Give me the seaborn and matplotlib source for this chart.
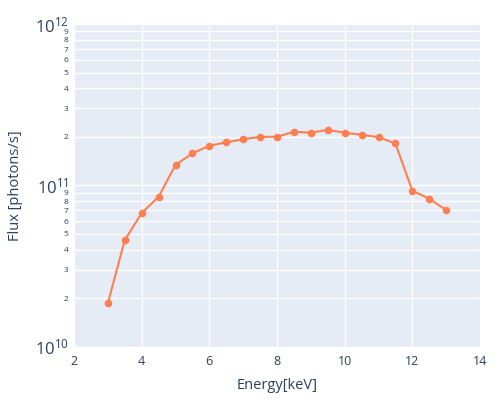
import numpy as np
import pandas as pd
import seaborn as sns
import matplotlib.pyplot as plt
from matplotlib.ticker import FixedLocator, FixedFormatter

# Values
energy = [3, 3.5, 4, 4.5, 5, 5.5, 6, 6.5, 7, 7.5, 8, 8.5, 9, 9.5, 10, 10.5, 11, 11.5, 12, 12.5, 13]
flux = [1.86e10, 4.58e10, 6.74e10, 8.5e10, 1.34e11, 1.58e11, 1.76e11, 1.85e11, 1.93e11, 2.0e11,
        2.0e11, 2.15e11, 2.12e11, 2.21e11, 2.12e11, 2.06e11, 1.99e11, 1.82e11, 9.27e10, 8.27e10, 7.03e10]
x_ticks = [2, 4, 6, 8, 10, 12, 14]

df = pd.DataFrame({'Energy': energy, 'Flux': flux})

text_color = '#2a3f5f'
sns.set_theme(style='darkgrid', rc={'axes.facecolor': '#E5ECF6', 'grid.color': 'white',
                                    'grid.linewidth': 1.0})
plt.rcParams['font.family'] = ['Open Sans', 'DejaVu Sans']
plt.rcParams['mathtext.fontset'] = 'custom'
plt.rcParams['mathtext.rm'] = 'Open Sans'
plt.rcParams['mathtext.it'] = 'Open Sans'

fig = plt.figure(figsize=(5, 4), dpi=100)
ax = fig.add_axes([0.148, 0.133, 0.812, 0.807])

sns.lineplot(x='Energy', y='Flux', data=df, ax=ax, color='#FF7F50', marker='o',
             markersize=5.5, markeredgewidth=0, linewidth=1.5)

ax.set_yscale('log')
ax.set_xlim(2, 14)
ax.set_ylim(1e10, 1e12)
ax.set_xticks(x_ticks)
ax.set_xticklabels([str(t) for t in x_ticks])

# major log ticks with big labels, minor ticks 2..9 with small labels
ax.yaxis.set_major_locator(FixedLocator([1e10, 1e11, 1e12]))
ax.yaxis.set_major_formatter(FixedFormatter([r'$10^{10}$', r'$10^{11}$', r'$10^{12}$']))
minor_pos = [m * 10.0 ** e for e in (10, 11) for m in range(2, 10)]
ax.yaxis.set_minor_locator(FixedLocator(minor_pos))
ax.yaxis.set_minor_formatter(FixedFormatter([str(m) for e in (10, 11) for m in range(2, 10)]))
ax.grid(True, which='both', axis='y', color='white', linewidth=1.0)
ax.grid(True, which='major', axis='x', color='white', linewidth=1.0)

ax.tick_params(axis='both', which='both', length=0, colors=text_color)
ax.tick_params(axis='x', labelsize=9, pad=6)
ax.tick_params(axis='y', which='major', labelsize=12, pad=4)
ax.tick_params(axis='y', which='minor', labelsize=6, pad=4)

for s in ax.spines.values():
    s.set_visible(False)

ax.set_xlabel('Energy[keV]', fontsize=10.5, color=text_color, labelpad=7)
ax.set_ylabel('Flux [photons/s]', fontsize=10.5, color=text_color, labelpad=8)

fig.savefig('out.png', dpi=100)
